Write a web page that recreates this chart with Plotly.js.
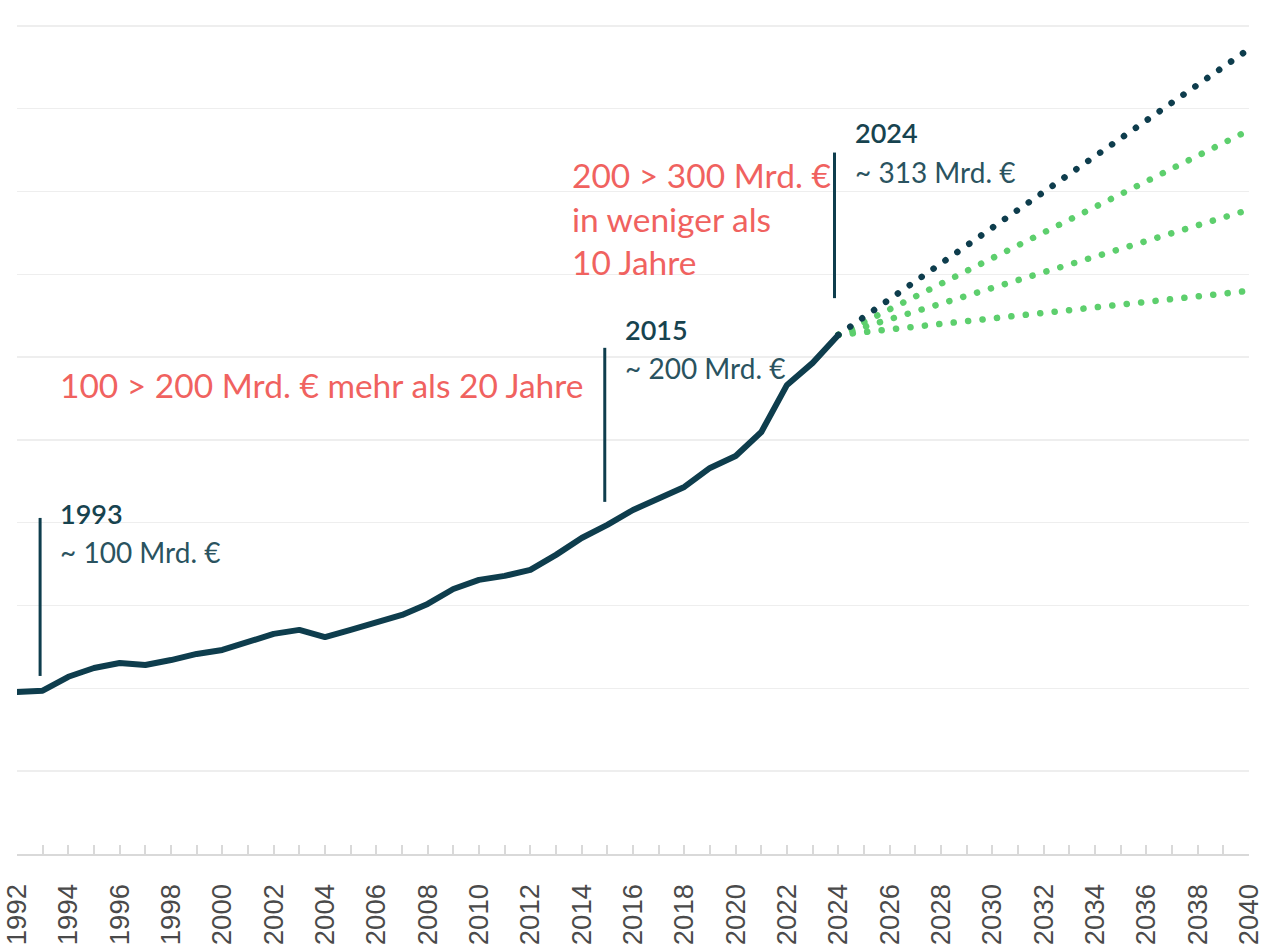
<!DOCTYPE html>
<html>
<head>
<meta charset="utf-8">
<script src="https://cdn.plot.ly/plotly-3.0.1.min.js"></script>
<style>
html,body{margin:0;padding:0;background:#fff;}
#chart{width:1268px;height:950px;}
.scatterlayer path.js-line{stroke-linecap:round !important;stroke-linejoin:round !important;}
</style>
</head>
<body>
<div id="chart"></div>
<script>
// Historical values (Mrd. €)
const years = [1992,1993,1994,1995,1996,1997,1998,1999,2000,2001,2002,2003,2004,2005,2006,2007,2008,2009,2010,2011,2012,2013,2014,2015,2016,2017,2018,2019,2020,2021,2022,2023,2024];
const values = [97.8,98.6,107,112.3,115.3,114.1,117.1,120.8,123.2,127.6,132.9,135.3,131,135.3,139.5,144.3,151,160,165.5,167.9,171.5,180.6,190.8,198.7,207.7,214.4,221.6,233.1,240.3,254.8,283.2,296.5,313.4];

// Projection scenarios 2024 -> 2040
const projYears = [2024, 2040];
const projHigh = [313.4, 486];
const projMid1 = [313.4, 437];
const projMid2 = [313.4, 389];
const projLow = [313.4, 340];

// Tick labels
const tickYears = [1992,1994,1996,1998,2000,2002,2004,2006,2008,2010,2012,2014,2016,2018,2020,2022,2024,2026,2028,2030,2032,2034,2036,2038,2040];
const tickLabels = tickYears.map(String);

const navy = '#0e3d4d';
const green = '#5dcf6d';
const red = '#f0625f';
const dotDash = '0.1px,14.4px';

const traces = [
  {x: projYears, y: projLow, mode: 'lines', line: {color: green, width: 6.5, dash: dotDash}, hoverinfo: 'skip', cliponaxis: false},
  {x: projYears, y: projMid2, mode: 'lines', line: {color: green, width: 6.5, dash: dotDash}, hoverinfo: 'skip', cliponaxis: false},
  {x: projYears, y: projMid1, mode: 'lines', line: {color: green, width: 6.5, dash: dotDash}, hoverinfo: 'skip', cliponaxis: false},
  {x: projYears, y: projHigh, mode: 'lines', line: {color: navy, width: 6.5, dash: dotDash}, hoverinfo: 'skip', cliponaxis: false},
  {x: years, y: values, mode: 'lines', line: {color: navy, width: 6}, hoverinfo: 'skip', cliponaxis: false}
];

const yearFont = {family: 'Lato, "Open Sans", sans-serif', size: 27, color: '#17434f', weight: 600};
const subFont = {family: 'Lato, "Open Sans", sans-serif', size: 28, color: '#2a5360'};
const redFont = {family: 'Lato, "Open Sans", sans-serif', size: 33.5, color: red};

function ann(x, y, text, font) {
  return {x: x, y: y, xref: 'x', yref: 'y', text: text, showarrow: false, xanchor: 'left', yanchor: 'middle', align: 'left', font: font};
}

const layout = {
  width: 1268, height: 950,
  margin: {l: 17, r: 19, t: 1, b: 96},
  paper_bgcolor: '#ffffff', plot_bgcolor: '#ffffff',
  showlegend: false,
  xaxis: {
    range: [1992, 2040],
    tickvals: tickYears, ticktext: tickLabels,
    tickangle: -90,
    ticks: 'inside', ticklen: 9, tickwidth: 2, tickcolor: '#d9d9d9',
    minor: {dtick: 1, tick0: 1992, ticks: 'inside', ticklen: 9, tickwidth: 2, tickcolor: '#d9d9d9', showgrid: false},
    showgrid: false, zeroline: false,
    showline: true, linecolor: '#d9d9d9', linewidth: 2,
    tickfont: {family: '"Liberation Sans", Arial, sans-serif', size: 27.5, color: '#4a4a4a'},
    ticklabelstandoff: 17
  },
  yaxis: {
    range: [0, 515],
    dtick: 50, tick0: 0,
    showticklabels: false, ticks: '',
    showgrid: true, gridcolor: '#eeeeee', gridwidth: 1.5,
    zeroline: false, showline: false
  },
  shapes: [
    {type: 'line', xref: 'x', yref: 'y', x0: 1992.9, x1: 1992.9, y0: 107.5, y1: 202.9, line: {color: navy, width: 3}},
    {type: 'line', xref: 'x', yref: 'y', x0: 2014.9, x1: 2014.9, y0: 212.6, y1: 305.6, line: {color: navy, width: 3}},
    {type: 'line', xref: 'x', yref: 'y', x0: 2023.85, x1: 2023.85, y0: 335.6, y1: 423.5, line: {color: navy, width: 3}}
  ],
  annotations: [
    ann(1993.58, 205.3, '1993', yearFont),
    ann(1993.58, 182.4, '~ 100 Mrd. €', subFont),
    ann(1993.58, 283.2, '100 &gt; 200 Mrd. € mehr als 20 Jahre', redFont),
    ann(2015.62, 316.4, '2015', yearFont),
    ann(2015.62, 293.5, '~ 200 Mrd. €', subFont),
    ann(2013.55, 383.5, '200 &gt; 300 Mrd. €<br>in weniger als<br>10 Jahre', redFont),
    ann(2024.57, 435.4, '2024', yearFont),
    ann(2024.57, 411.8, '~ 313 Mrd. €', subFont)
  ]
};

Plotly.newPlot('chart', traces, layout, {displayModeBar: false, staticPlot: true});
</script>
</body>
</html>
